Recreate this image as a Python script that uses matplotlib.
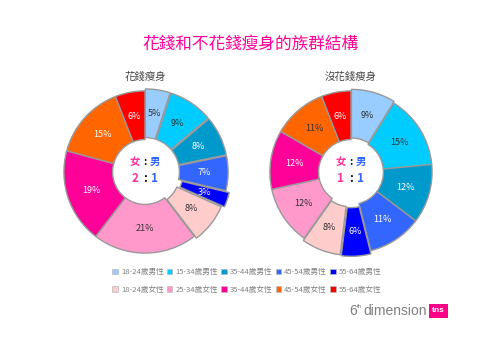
import matplotlib
matplotlib.use('Agg')
import matplotlib.pyplot as plt
from matplotlib.patches import Patch, Rectangle

plt.rcParams['font.family'] = ['Noto Sans CJK TC', 'DejaVu Sans']

# data
groups = ['18-24歲男性', '15-34歲男性', '35-44歲男性', '45-54歲男性', '55-64歲男性',
          '18-24歲女性', '25-34歲女性', '35-44歲女性', '45-54歲女性', '55-64歲女性']
spend = [5, 9, 8, 7, 3, 8, 21, 19, 15, 6]
no_spend = [9, 15, 12, 11, 6, 8, 12, 12, 11, 6]
colors = ['#99ccff', '#00ccff', '#0099cc', '#3366ff', '#0000ff',
          '#ffcccc', '#ff99cc', '#ff0099', '#ff6600', '#ff0000']
spend_txt = ['#333333', '#333333', 'white', 'white', 'white',
             '#333333', '#333333', 'white', 'white', 'white']
no_spend_txt = ['#333333', '#333333', 'white', 'white', 'white',
                '#333333', '#333333', 'white', '#333333', 'white']
spend_explode = [0.025, 0.025, 0.025, 0.025, 0.07, 0.035, 0, 0, 0, 0]
no_spend_explode = [0.02, 0, 0, 0, 0.04, 0.03, 0, 0, 0, 0]

W, H = 500, 353
fig = plt.figure(figsize=(W / 100, H / 100), dpi=100)
fig.patch.set_facecolor('white')

fig.text(250 / W, 1 - 44 / H, '花錢和不花錢瘦身的族群結構', color='#ff0099',
         fontsize=12, ha='center', va='center')


def donut(cx, cy, vals, txtc, explode, title, ratio):
    r = 90
    total = sum(vals)
    ax = fig.add_axes([(cx - r) / W, 1 - (cy + r) / H, 2 * r / W, 2 * r / H])
    wedges, texts, autos = ax.pie(
        vals, colors=colors, startangle=90, counterclock=False,
        explode=explode, autopct=lambda p: '%d%%' % round(p * total / 100),
        pctdistance=0.7,
        wedgeprops=dict(width=0.6, edgecolor='#999999', linewidth=1),
        textprops=dict(fontsize=6.5))
    ax.set_xlim(-1.11, 1.11)
    ax.set_ylim(-1.11, 1.11)
    ax.set_aspect('equal')
    ax.axis('off')
    for t, c in zip(autos, txtc):
        t.set_color(c)
    fig.text(cx / W, 1 - 77 / H, title, color='#444444', fontsize=7.5,
             ha='center', va='center')
    fig.text((cx - 10) / W, 1 - (cy - 10) / H, '女', color='#ff3399', fontsize=7.5,
             ha='center', va='center', weight='bold')
    fig.text(cx / W, 1 - (cy - 10) / H, ':', color='black', fontsize=7.5,
             ha='center', va='center', weight='bold')
    fig.text((cx + 10) / W, 1 - (cy - 10) / H, '男', color='#3366ff', fontsize=7.5,
             ha='center', va='center', weight='bold')
    fig.text((cx - 10) / W, 1 - (cy + 6) / H, ratio[0], color='#ff3399', fontsize=8.5,
             ha='center', va='center', weight='bold')
    fig.text(cx / W, 1 - (cy + 6) / H, ':', color='black', fontsize=8.5,
             ha='center', va='center', weight='bold')
    fig.text((cx + 10) / W, 1 - (cy + 6) / H, ratio[1], color='#3366ff', fontsize=8.5,
             ha='center', va='center', weight='bold')


donut(145, 172, spend, spend_txt, spend_explode, '花錢瘦身', ('2', '1'))
donut(351, 172, no_spend, no_spend_txt, no_spend_explode, '沒花錢瘦身', ('1', '1'))

# legend: row-major order for 5 columns
handles = [Patch(facecolor=c, edgecolor='#bbbbbb', linewidth=0.5) for c in colors]
order = []
for i in range(5):
    order += [i, i + 5]
leg = fig.legend([handles[i] for i in order], [groups[i] for i in order],
                 ncol=5, loc='center', bbox_to_anchor=(247 / W, 1 - 281 / H),
                 frameon=False, fontsize=5.5, handlelength=0.7, handleheight=0.7,
                 handletextpad=0.4, columnspacing=0.45, labelspacing=1.2)
for t in leg.get_texts():
    t.set_color('#808080')

# logo
logo_font = ['Liberation Sans', 'DejaVu Sans']
fig.text(349 / W, 1 - 311 / H, '6', color='#808080', fontsize=10, ha='left',
         va='center', family=logo_font)
fig.text(356.5 / W, 1 - 307 / H, 'th', color='#808080', fontsize=4.5, ha='left',
         va='center', family=logo_font)
fig.text(363 / W, 1 - 311 / H, 'dimension', color='#808080', fontsize=10,
         ha='left', va='center', family=logo_font)
fig.patches.append(Rectangle((429 / W, 1 - 318 / H), 19 / W, 14 / H,
                             transform=fig.transFigure, facecolor='#ff0088',
                             edgecolor='none'))
fig.text(438.5 / W, 1 - 311 / H, 'tns', color='white', fontsize=6, ha='center',
         va='center', weight='bold', family=logo_font)

fig.savefig('out.png', dpi=100)
